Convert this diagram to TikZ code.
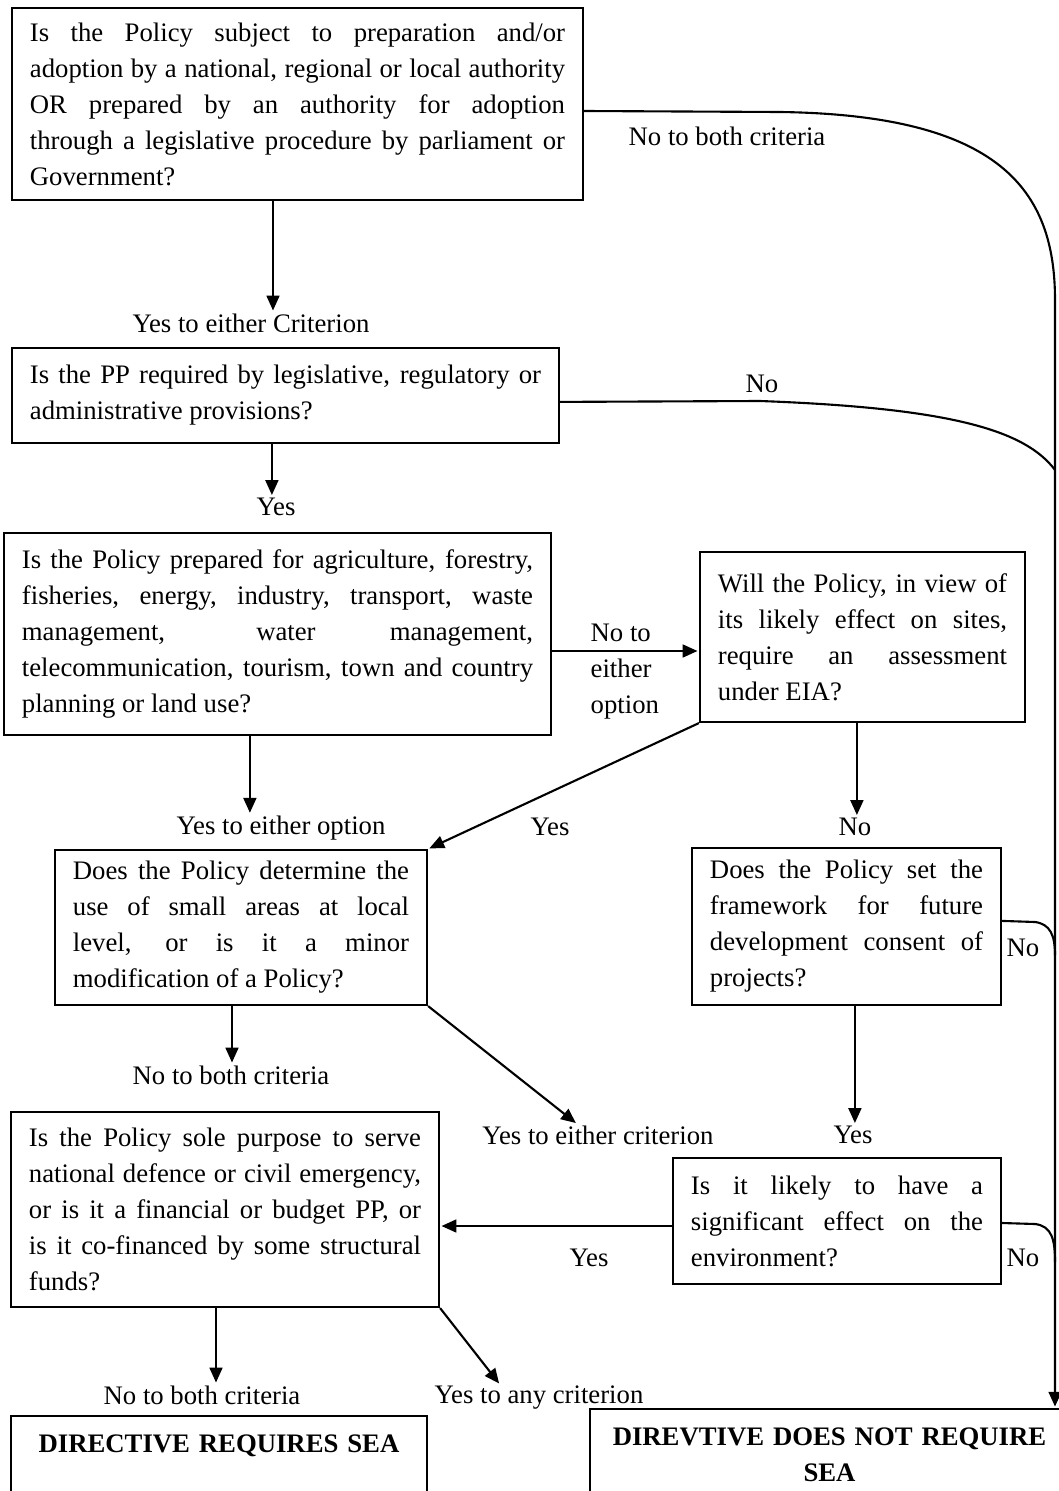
\documentclass[tikz,border=0pt]{standalone}
\usepackage{fontspec}
\setmainfont{Liberation Serif}
\usetikzlibrary{arrows.meta}
\tolerance=9999
\hbadness=10000
\hyphenpenalty=10000
\begin{document}
\begin{tikzpicture}[x=0.025cm,y=-0.025cm,
				font=\fontsize{19}{25.6}\selectfont,
				qbox/.style={draw,line width=1.5pt,align=justify,inner xsep=0.45cm,inner ysep=0pt},
				endbox/.style={draw,line width=1.5pt,align=center,font=\fontsize{19}{25.6}\selectfont\bfseries,
					inner xsep=0.45cm,inner ysep=0.46cm,anchor=north,text depth=3cm},
				lbl/.style={inner sep=1pt},
				arr/.style={-{Triangle[length=0.37cm,width=0.32cm]},line width=1.5pt,shorten >=1pt},
				rail/.style={line width=1.5pt}]
	      \useasboundingbox (0,0) rectangle (1058,1491);
	      % Definir las preguntas
	      \node[qbox,text width=13.375cm,minimum height=4.8cm] (b1) at (297.5,104) {%
		  Is the Policy subject to preparation and/or\linebreak
		  adoption by a national, regional or local authority\linebreak
		  OR prepared by an authority for adoption\linebreak
		  through a legislative procedure by parliament or\linebreak
		  Government?};
	      \node[qbox,text width=12.775cm,minimum height=2.375cm] (b2) at (285.5,395.5) {%
		  Is the PP required by legislative, regulatory or\linebreak
		  administrative provisions?};
	      \node[qbox,text width=12.775cm,minimum height=5.05cm] (b3) at (277.5,634) {%
		  Is the Policy prepared for agriculture, forestry,\linebreak
		  fisheries, energy, industry, transport, waste\linebreak
		  management, water management,\linebreak
		  telecommunication, tourism, town and country\linebreak
		  planning or land use?};
	      \node[qbox,text width=7.225cm,minimum height=4.25cm] (b4) at (862.5,637) {%
		  Will the Policy, in view of\linebreak
		  its likely effect on sites,\linebreak
		  require an assessment\linebreak
		  under EIA?};
	      \node[qbox,text width=8.4cm,minimum height=3.875cm] (b5) at (241,927.5) {%
		  Does the Policy determine the\linebreak
		  use of small areas at local\linebreak
		  level, or is it a minor\linebreak
		  modification of a Policy?};
	      \node[qbox,text width=6.825cm,minimum height=3.925cm] (b6) at (846.5,926.5) {%
		  Does the Policy set the\linebreak
		  framework for future\linebreak
		  development consent of\linebreak
		  projects?};
	      \node[qbox,text width=9.8cm,minimum height=4.875cm] (b7) at (225,1209.5) {%
		  Is the Policy sole purpose to serve\linebreak
		  national defence or civil emergency,\linebreak
		  or is it a financial or budget PP, or\linebreak
		  is it co-financed by some structural\linebreak
		  funds?};
	      \node[qbox,text width=7.3cm,minimum height=3.15cm] (b8) at (837,1221) {%
		  Is it likely to have a\linebreak
		  significant effect on the\linebreak
		  environment?};
	      % Resultados
	      \node[endbox,text width=9.5cm] (b9) at (219,1415) {DIRECTIVE REQUIRES SEA};
	      \node[endbox,text width=11.075cm] (b10) at (829.5,1408) {DIREVTIVE DOES NOT REQUIRE\\SEA};
	      % Etiquetas
	      \node[lbl] (l1) at (251,323) {Yes to either Criterion};
	      \node[lbl] (l2) at (276,507) {Yes};
	      \node[lbl] (l3) at (281,828) {Yes to either option};
	      \node[lbl,align=left,anchor=west] (l4) at (589,672) {No to\\either\\option};
	      \node[lbl] (l5) at (550,827) {Yes};
	      \node[lbl] (l6) at (855,827) {No};
	      \node[lbl] (l7) at (231,1075) {No to both criteria};
	      \node[lbl] (l8) at (598,1135) {Yes to either criterion};
	      \node[lbl] (l9) at (853,1135) {Yes};
	      \node[lbl] (l10) at (589,1258) {Yes};
	      \node[lbl] (l11) at (202,1395) {No to both criteria};
	      \node[lbl] (l12) at (539,1398) {Yes to any criterion};
	      \node[lbl] (l13) at (727,136) {No to both criteria};
	      \node[lbl] (l14) at (762,384) {No};
	      \node[lbl] (l15) at (1023,948) {No};
	      \node[lbl] (l16) at (1023,1258) {No};
	      % Flechas
	      \draw[arr] ([xshift=-0.6125cm]b1.south) coordinate (s1) -- (s1 |- l1.north);
	      \draw[arr] ([xshift=-0.34cm]b2.south) coordinate (s2) -- (s2 |- l2.north);
	      \draw[arr] ([xshift=-0.69cm]b3.south) coordinate (s3) -- (s3 |- l3.north);
	      \draw[arr] ([yshift=-0.425cm]b3.east) coordinate (s4) -- (s4 -| b4.west);
	      \draw[arr] (b4.south west) -- (b5.north east);
	      \draw[arr] ([xshift=-0.14cm]b4.south) coordinate (s6) -- (s6 |- l6.north);
	      \draw[arr] ([xshift=-0.225cm]b5.south) coordinate (s7) -- (s7 |- l7.north);
	      \draw[arr] (b5.south east) -- ([xshift=-0.525cm]l8.north);
	      \draw[arr] ([xshift=0.21cm]b6.south) coordinate (s9) -- (s9 |- l9.north);
	      \draw[arr] ([yshift=-0.125cm]b8.west) coordinate (s10) -- (s10 -| b7.east);
	      \draw[arr] ([xshift=-0.225cm]b7.south) coordinate (s11) -- (s11 |- l11.north);
	      \draw[arr] (b7.south east) -- ([xshift=-0.975cm]l12.north);
	      % Linea de la derecha
	      \coordinate (railtop) at (1055,300);
	      \draw[arr] ([yshift=-0.175cm]b1.east) -- (780,112) .. controls (1000,115) and (1055,190) .. (railtop)
		  -- (railtop |- b10.north);
	      \draw[rail] ([yshift=-0.16cm]b2.east) -- (760,401) .. controls (950,408) and (1025,430) .. (1055,470);
	      \draw[rail] ([yshift=0.14cm]b6.east) -- (1035,922) .. controls (1050,924) and (1055,935) .. (1055,955);
	      \draw[rail] ([yshift=-0.05cm]b8.east) -- (1035,1224) .. controls (1052,1226) and (1055,1240) .. (1055,1262);
\end{tikzpicture}
\end{document}
